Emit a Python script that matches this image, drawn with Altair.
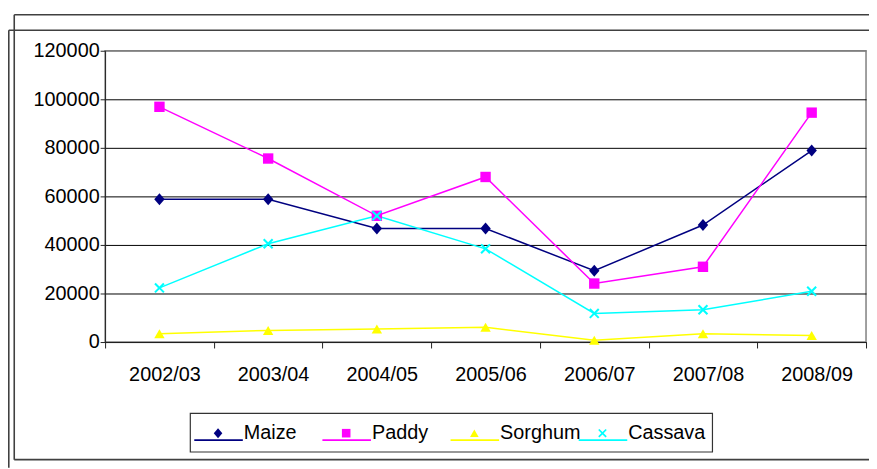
import altair as alt
import pandas as pd

# ---- data ----
years = ["2002/03", "2003/04", "2004/05", "2005/06", "2006/07", "2007/08", "2008/09"]
series_names = ["Maize", "Paddy", "Sorghum", "Cassava"]
maize = [58800, 58800, 46800, 46800, 29400, 48200, 78900]
paddy = [96900, 75600, 52000, 68000, 24100, 31000, 94500]
sorghum = [3400, 4800, 5400, 6100, 700, 3400, 2700]
cassava = [22300, 40500, 52000, 38400, 11800, 13300, 20900]
y_ticks = [0, 20000, 40000, 60000, 80000, 100000, 120000]

# ---- styles ----
colors = ["#000080", "#FF00FF", "#FFFF00", "#00FFFF"]
X_PATH = ("M0,-0.28L0.72,-1L1,-0.72L0.28,0L1,0.72L0.72,1L0,0.28L-0.72,1"
          "L-1,0.72L-0.28,0L-1,-0.72L-0.72,-1Z")
DIAMOND_PATH = "M-1,0L0,-1.15L1,0L0,1.15Z"
shapes = [DIAMOND_PATH, "square", "triangle-up", X_PATH]
FONT = "Liberation Sans"
FRAME = "#404040"

rows = []
for name, vals in zip(series_names, [maize, paddy, sorghum, cassava]):
    for yr, v in zip(years, vals):
        rows.append({"year": yr, "series": name, "value": v})
df = pd.DataFrame(rows)
leg_df = pd.DataFrame({"series": series_names})
one = pd.DataFrame({"k": [0]})

color_enc = alt.Color("series:N", scale=alt.Scale(domain=series_names, range=colors), legend=None)
shape_enc = alt.Shape("series:N", scale=alt.Scale(domain=series_names, range=shapes), legend=None)

x_enc = alt.X(
    "year:N",
    scale=alt.Scale(type="band", domain=years, paddingInner=0, paddingOuter=0),
    axis=alt.Axis(title=None, labelAngle=0, tickBand="extent", tickSize=6,
                  labelPadding=17, labelOffset=5, labelFontSize=20, labelFont=FONT,
                  labelColor="black", domainColor="#222222", tickColor="#222222",
                  grid=False, labelOverlap=False),
)
y_enc = alt.Y(
    "value:Q",
    scale=alt.Scale(domain=[0, 120000], nice=False, zero=True),
    axis=alt.Axis(title=None, values=y_ticks, format="d", tickSize=5, labelPadding=1,
                  labelFontSize=20, labelFont=FONT, labelColor="black",
                  grid=True, gridWidth=1,
                  gridColor={"condition": {"test": "datum.value == 120000", "value": "#808080"},
                             "value": "black"},
                  domainColor="#222222", tickColor="#222222"),
)

lines = alt.Chart(df).mark_line(strokeWidth=1.5).encode(
    x=x_enc, y=y_enc, color=color_enc
)
points = alt.Chart(df).mark_point(filled=True, size=110, opacity=1).encode(
    x=x_enc, y=y_enc, color=color_enc, shape=shape_enc
)
main = alt.layer(lines, points)

# ---- legend (built from the series names through a point scale) ----
leg_x = alt.X("series:N",
              scale=alt.Scale(type="point", domain=series_names, range=[114, 502], padding=0),
              axis=None)
leg_box = alt.Chart(one).mark_rect(fill="white", stroke="#333333", strokeWidth=1.2).encode(
    x=alt.value(86), x2=alt.value(613), y=alt.value(366), y2=alt.value(405)
)
leg_lines = alt.Chart(leg_df).mark_rule(strokeWidth=2, xOffset=-24, x2Offset=25).encode(
    x=leg_x, x2=alt.X2("series:N"), y=alt.value(393), color=color_enc
)
leg_points = alt.Chart(leg_df).mark_point(filled=True, size=75, opacity=1).encode(
    x=leg_x, y=alt.value(386), color=color_enc, shape=shape_enc
)
leg_text = alt.Chart(leg_df).mark_text(align="left", baseline="middle", dx=26,
                                       fontSize=20, font=FONT, color="black").encode(
    x=leg_x, y=alt.value(386), text="series:N"
)


def hrule(y, x1, x2):
    return alt.Chart(one).mark_rule(color=FRAME, strokeWidth=1.6).encode(
        y=alt.value(y), x=alt.value(x1), x2=alt.value(x2))


def vrule(x, y1, y2):
    return alt.Chart(one).mark_rule(color=FRAME, strokeWidth=1.6).encode(
        x=alt.value(x), y=alt.value(y1), y2=alt.value(y2))


frames = [
    hrule(-36.3, -91.7, 772), vrule(-91.7, -36.3, 412.7), hrule(412.7, -91.7, 772),
    hrule(-20.7, -97.2, 772), vrule(-97.2, -20.7, 421),
]

legend = alt.layer(*frames, leg_box, leg_lines, leg_points, leg_text)

chart = alt.layer(main, legend).resolve_scale(
    x="independent", y="independent"
).properties(
    width=768, height=294,
    autosize="none",
    padding={"left": 98, "top": 41, "right": 3, "bottom": 126},
    background="white",
).configure_view(stroke="#808080", strokeWidth=1.5)

chart.save("out.html", embed_options={"renderer": "svg", "actions": False})
